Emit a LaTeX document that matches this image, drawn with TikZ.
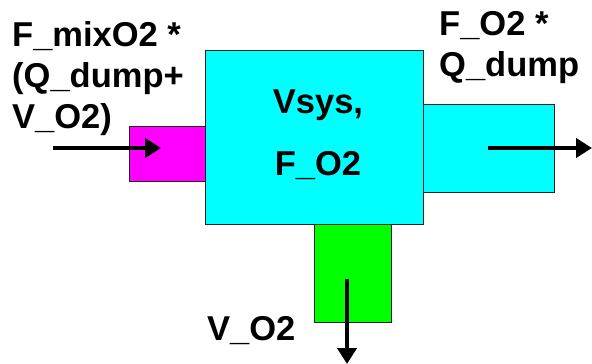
\documentclass[tikz,border=0pt]{standalone}
\usepackage{fontspec}
\setmainfont{Liberation Sans}
\usetikzlibrary{arrows.meta}
\definecolor{boxcyan}{HTML}{00FFFF}
\definecolor{boxmag}{HTML}{FF00FF}
\definecolor{boxgreen}{HTML}{00FF00}
\definecolor{edgegray}{HTML}{222222}
\tikzset{
  blk/.style={draw=edgegray, line width=1.3pt, inner sep=0pt, minimum width=#1},
  flow/.style={line width=4.5pt, -{Triangle[length=16pt,width=19pt]}},
  lbl/.style={inner sep=0pt, font=\fontsize{34.5}{41}\selectfont\bfseries}
}
\begin{document}
\begin{tikzpicture}[x=1pt,y=-1pt]
\useasboundingbox (0,0) rectangle (592,364);
% boxes
\node[blk=76pt, minimum height=55pt, fill=boxmag, anchor=north west] (mix) at (129,126) {};
\node[blk=131pt, minimum height=88pt, fill=boxcyan, anchor=north west] (out) at (423,104) {};
\node[blk=77pt, minimum height=98pt, fill=boxgreen, anchor=north west] (vent) at (314,224) {};
\node[blk=218pt, minimum height=174pt, fill=boxcyan, anchor=north west] (sys) at (205,50) {};
% labels
\node[lbl, anchor=base] (syslbl) at (318,113) {\begin{tabular}[t]{@{}c@{}}Vsys,\\[21pt]F\_O2\end{tabular}};
\node[lbl, anchor=base west] (inlbl) at (12,46) {\begin{tabular}[t]{@{}l@{}}F\_mixO2 *\\(Q\_dump+\\V\_O2)\end{tabular}};
\node[lbl, anchor=base west] (outlbl) at (439,35) {\begin{tabular}[t]{@{}l@{}}F\_O2 *\\Q\_dump\end{tabular}};
\node[lbl, anchor=base west] (ventlbl) at (207,340) {V\_O2};
% flows
\coordinate (inS) at (53,148);
\coordinate (inE) at (161,148);
\coordinate (outS) at (488,148);
\coordinate (outE) at (592,148);
\coordinate (vS) at (347,279);
\coordinate (vE) at (347,364);
\draw[flow] (inS) -- (inE);
\draw[flow] (outS) -- (outE);
\draw[flow] (vS) -- (vE);
\end{tikzpicture}
\end{document}
